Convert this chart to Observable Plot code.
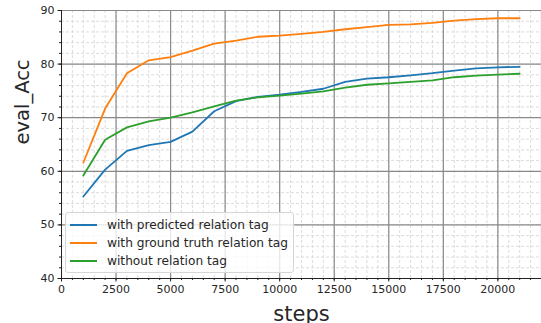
<!DOCTYPE html>
<html><head><meta charset="utf-8">
<script src="https://cdn.jsdelivr.net/npm/d3@7"></script>
<script src="https://cdn.jsdelivr.net/npm/@observablehq/plot@0.6"></script>
<style>
body{margin:0;background:#fff;font-family:"DejaVu Sans",sans-serif;}
#wrap{position:relative;width:541px;height:323px;overflow:hidden;}
.legend{position:absolute;left:65px;top:212px;width:229px;height:61px;box-sizing:border-box;border:1px solid #d6d6d6;border-radius:3px;background:rgba(255,255,255,0.8);font-size:12.2px;color:#262626;}
.row{position:absolute;left:4px;height:16px;display:flex;align-items:center;white-space:nowrap;}
.row svg{margin-right:10px;}
</style></head>
<body><div id="wrap"></div>
<script>
const steps = [1000,2000,3000,4000,5000,6000,7000,8000,9000,10000,11000,12000,13000,14000,15000,16000,17000,18000,19000,20000,21000];
const predicted   = [55.3,60.3,63.8,64.9,65.5,67.4,71.2,73.1,73.9,74.3,74.8,75.4,76.7,77.3,77.55,77.9,78.3,78.8,79.2,79.4,79.5];
const groundTruth = [61.6,71.7,78.3,80.7,81.3,82.5,83.8,84.4,85.1,85.3,85.65,86.0,86.5,86.9,87.3,87.4,87.7,88.1,88.4,88.55,88.55];
const without     = [59.2,65.9,68.2,69.3,70.0,71.0,72.1,73.2,73.8,74.1,74.5,74.9,75.6,76.15,76.4,76.7,76.95,77.55,77.85,78.05,78.2];
const seriesNames = ["with predicted relation tag","with ground truth relation tag","without relation tag"];
const seriesColors = ["#1f77b4","#ff7f0e","#2ca02c"];
const xMajorTicks = [0,2500,5000,7500,10000,12500,15000,17500,20000];
const yMajorTicks = [40,50,60,70,80,90];

const seriesValues = [predicted, groundTruth, without];
const data = seriesValues.flatMap((vals, i) => vals.map((v, j) => ({step: steps[j], acc: v, series: seriesNames[i]})));
const xMinor = d3.range(0, 22001, 500);
const yMinor = d3.range(40, 90.01, 2);

const chart = Plot.plot({
  width: 541, height: 323,
  marginLeft: 61, marginRight: 0, marginTop: 10, marginBottom: 45,
  style: {fontFamily: "DejaVu Sans, sans-serif", fontSize: "11px", color: "#262626", background: "#fff", overflow: "visible"},
  x: {domain: [0, 22000]},
  y: {domain: [40, 90]},
  color: {domain: seriesNames, range: seriesColors},
  marks: [
    Plot.gridX(xMinor, {stroke: "#dcdcdc", strokeOpacity: 1, strokeDasharray: "3,2", strokeWidth: 1}),
    Plot.gridY(yMinor, {stroke: "#dcdcdc", strokeOpacity: 1, strokeDasharray: "3,2", strokeWidth: 1}),
    Plot.gridX(xMajorTicks.concat([22000]).filter(d => d > 0), {stroke: "#8a8a8a", strokeOpacity: 1, strokeWidth: 1.2}),
    Plot.gridY(yMajorTicks.filter(d => d > 40), {stroke: "#8a8a8a", strokeOpacity: 1, strokeWidth: 1.2}),
    Plot.axisX(xMinor, {tickSize: 2, tickFormat: () => "", label: null, stroke: "#222"}),
    Plot.axisY(yMinor, {tickSize: 2, tickFormat: () => "", label: null, stroke: "#222"}),
    Plot.axisX(xMajorTicks, {tickSize: 3.5, tickPadding: 3.5, tickFormat: d => String(d), label: null, fontSize: 11, fill: "#262626", stroke: "#222"}),
    Plot.axisY(yMajorTicks, {tickSize: 3.5, tickPadding: 3.5, tickFormat: d => String(d), label: null, fontSize: 11, fill: "#262626", stroke: "#222"}),
    Plot.ruleX([0], {stroke: "#222", strokeWidth: 1}),
    Plot.ruleY([40], {stroke: "#222", strokeWidth: 1}),
    Plot.line(data, {x: "step", y: "acc", z: "series", stroke: "series", strokeWidth: 1.8}),
    Plot.text(["steps"], {frameAnchor: "bottom", dy: 36, lineAnchor: "middle", fontSize: 21, fill: "#262626"}),
    Plot.text(["eval_Acc"], {frameAnchor: "left", dx: -39, rotate: -90, lineAnchor: "middle", fontSize: 19.5, fill: "#262626"})
  ]
});
const wrap = document.getElementById("wrap");
wrap.appendChild(chart);

const legend = document.createElement("div");
legend.className = "legend";
seriesNames.forEach((name, i) => {
  const row = document.createElement("div");
  row.className = "row";
  row.style.top = (4 + i * 18) + "px";
  row.innerHTML = `<svg width="27" height="4"><line x1="0" y1="2" x2="27" y2="2" stroke="${seriesColors[i]}" stroke-width="2"/></svg><span>${name}</span>`;
  legend.appendChild(row);
});
wrap.appendChild(legend);
</script>
</body></html>
